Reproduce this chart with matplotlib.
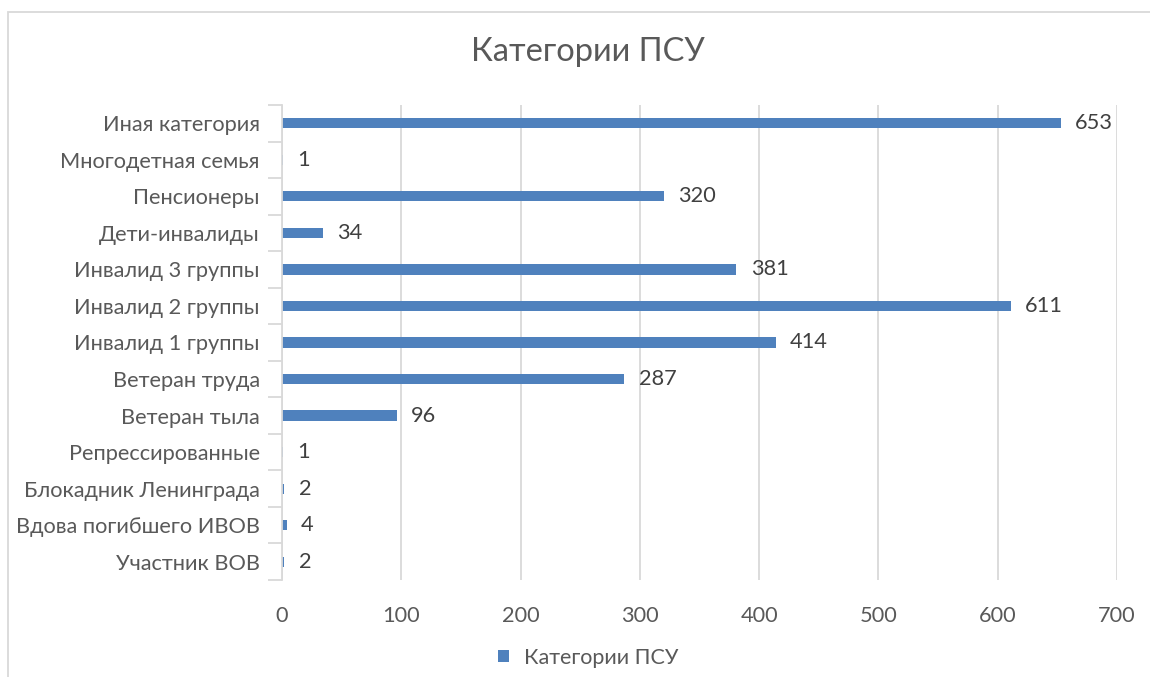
import numpy as np
import matplotlib.pyplot as plt
from matplotlib.patches import Rectangle

##      Data       ##
categories = ['Участник ВОВ', 'Вдова погибшего ИВОВ', 'Блокадник Ленинграда',
              'Репрессированные', 'Ветеран тыла', 'Ветеран труда',
              'Инвалид 1 группы', 'Инвалид 2 группы', 'Инвалид 3 группы',
              'Дети-инвалиды', 'Пенсионеры', 'Многодетная семья', 'Иная категория']
values = [2, 4, 2, 1, 96, 287, 414, 611, 381, 34, 320, 1, 653]
xticks = [0, 100, 200, 300, 400, 500, 600, 700]
series_name = 'Категории ПСУ'

txt = '#595959'
bar_col = '#4f81bd'
grid_col = '#d9d9d9'

plt.rcParams['font.family'] = ['Lato', 'DejaVu Sans']

fig = plt.figure(figsize=(11.5, 6.77), dpi=100)
ax = fig.add_axes([282 / 1150, 1 - 580 / 677, (1117 - 282) / 1150, (580 - 105) / 677])

y = np.arange(len(categories))
ax.barh(y, values, height=0.28, color=bar_col, zorder=3, label=series_name)
for yi, v in zip(y, values):
    ax.text(v + 12, yi, str(v), va='center', ha='left', fontsize=15.7, color='#404040')

ax.set_xlim(0, 700)
ax.set_ylim(-0.5, len(categories) - 0.5)
ax.set_xticks(xticks)
ax.set_xticklabels([str(t) for t in xticks], fontsize=15.7, color=txt)
ax.set_yticks(y)
ax.set_yticklabels(categories, fontsize=15.7, color=txt)
ax.set_yticks(np.arange(-0.5, len(categories), 1), minor=True)
ax.tick_params(axis='y', which='major', length=0, pad=16)
ax.tick_params(axis='y', which='minor', length=10, color=grid_col, width=1.3)
ax.tick_params(axis='x', length=0, pad=19)
ax.grid(axis='x', color=grid_col, lw=1.3, zorder=0)
for s in ['top', 'right', 'bottom']:
    ax.spines[s].set_visible(False)
ax.spines['left'].set_color(grid_col)
ax.spines['left'].set_linewidth(1.3)
ax.spines['left'].set_zorder(4)

fig.text(588 / 1150, 1 - 52 / 677, 'Категории ПСУ', ha='center', va='center',
         fontsize=23.5, color=txt)

leg = fig.legend(loc='center', bbox_to_anchor=(588 / 1150, 1 - 658 / 677), frameon=False,
                 fontsize=15.5, handlelength=0.5, handleheight=0.5, handletextpad=0.7)
for t in leg.get_texts():
    t.set_color(txt)

# chart area border
fig.patches.append(Rectangle((8 / 1150, -0.1), 1.2, 1 - 12 / 677 + 0.1, transform=fig.transFigure,
                             fill=False, edgecolor=grid_col, lw=1.3))

fig.savefig('out.png', dpi=100)
